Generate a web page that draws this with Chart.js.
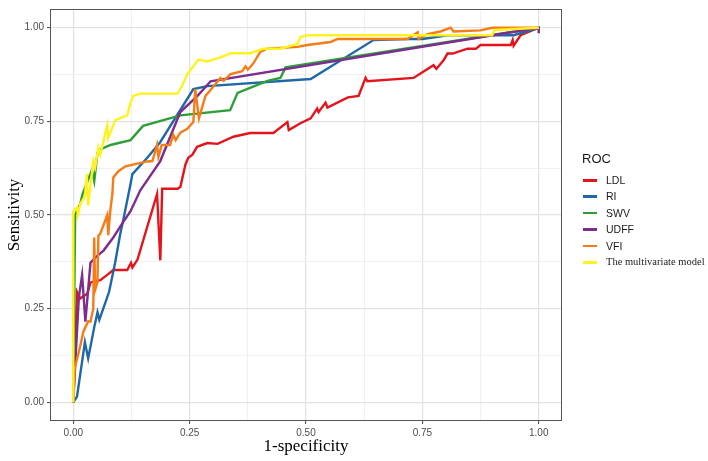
<!DOCTYPE html>
<html>
<head>
<meta charset="utf-8">
<script src="https://cdn.jsdelivr.net/npm/chart.js@4.4.1/dist/chart.umd.min.js"></script>
<style>
  html, body { margin: 0; padding: 0; background: #fff; }
  #wrap { position: relative; width: 708px; height: 461px; }
  #legend { position: absolute; left: 0; top: 0; font-family: 'Liberation Sans', Arial, sans-serif; color: #1a1a1a; }
  .leg-title { position: absolute; left: 582px; top: 151px; font-size: 13px; white-space: nowrap; }
  .leg-item { position: absolute; left: 583px; height: 14px; white-space: nowrap; }
  .leg-key { position: absolute; left: 0; top: 6px; width: 14px; height: 2.5px; }
  .leg-text { position: absolute; left: 23px; top: 0; font-size: 10.5px; line-height: 14px; }
  .serif { font-family: 'Liberation Serif', 'Times New Roman', serif; }
</style>
</head>
<body>
<div id="wrap">
  <canvas id="roc"></canvas>
  <div id="legend"></div>
</div>
<script>
// ROC points (1-specificity, sensitivity)
const ldlX = [0, 0.008, 0.015, 0.03, 0.037, 0.058, 0.073, 0.086, 0.116, 0.124, 0.127, 0.138, 0.18, 0.187, 0.191, 0.224, 0.23, 0.241, 0.247, 0.256, 0.266, 0.288, 0.31, 0.344, 0.38, 0.43, 0.46, 0.463, 0.488, 0.51, 0.524, 0.527, 0.542, 0.546, 0.59, 0.613, 0.628, 0.632, 0.731, 0.774, 0.78, 0.796, 0.804, 0.815, 0.847, 0.865, 0.875, 0.94, 0.944, 0.946, 0.961, 1];
const ldlY = [0, 0.295, 0.277, 0.29, 0.32, 0.326, 0.34, 0.353, 0.353, 0.372, 0.36, 0.381, 0.556, 0.379, 0.57, 0.57, 0.575, 0.635, 0.653, 0.661, 0.682, 0.692, 0.69, 0.709, 0.719, 0.719, 0.748, 0.727, 0.745, 0.758, 0.784, 0.775, 0.8, 0.787, 0.814, 0.818, 0.866, 0.857, 0.866, 0.9, 0.89, 0.914, 0.931, 0.931, 0.944, 0.944, 0.954, 0.954, 0.967, 0.952, 0.98, 1];

const riX = [0, 0.008, 0.025, 0.032, 0.045, 0.052, 0.056, 0.077, 0.09, 0.101, 0.108, 0.123, 0.127, 0.159, 0.187, 0.258, 0.288, 0.51, 0.645, 0.718, 0.75, 0.805, 0.946, 1];
const riY = [0, 0.015, 0.16, 0.117, 0.2, 0.24, 0.22, 0.295, 0.373, 0.45, 0.49, 0.583, 0.609, 0.653, 0.695, 0.836, 0.844, 0.863, 0.967, 0.97, 0.97, 0.98, 0.98, 1];

const swvX = [0, 0.004, 0.015, 0.02, 0.04, 0.045, 0.052, 0.058, 0.08, 0.123, 0.15, 0.23, 0.337, 0.353, 0.417, 0.445, 0.456, 1];
const swvY = [0, 0.5, 0.53, 0.556, 0.62, 0.59, 0.666, 0.675, 0.687, 0.7, 0.738, 0.766, 0.78, 0.826, 0.858, 0.866, 0.894, 1];

const udffX = [0, 0.008, 0.012, 0.019, 0.026, 0.037, 0.051, 0.065, 0.086, 0.105, 0.123, 0.144, 0.187, 0.23, 0.267, 0.295, 1, 1];
const udffY = [0, 0.19, 0.28, 0.34, 0.215, 0.373, 0.39, 0.405, 0.44, 0.477, 0.51, 0.566, 0.644, 0.775, 0.818, 0.857, 1, 0.985];

const vfiX = [0, 0.003, 0.015, 0.022, 0.032, 0.037, 0.043, 0.045, 0.047, 0.052, 0.054, 0.058, 0.073, 0.075, 0.08, 0.084, 0.086, 0.097, 0.112, 0.159, 0.17, 0.18, 0.183, 0.19, 0.208, 0.215, 0.22, 0.23, 0.245, 0.258, 0.262, 0.27, 0.284, 0.299, 0.316, 0.323, 0.338, 0.363, 0.37, 0.375, 0.387, 0.402, 0.417, 0.482, 0.503, 0.553, 0.568, 0.718, 0.74, 0.742, 0.761, 0.789, 0.811, 0.817, 0.875, 0.9, 1];
const vfiY = [0, 0.09, 0.15, 0.19, 0.216, 0.215, 0.25, 0.44, 0.3, 0.32, 0.445, 0.45, 0.5, 0.446, 0.517, 0.556, 0.6, 0.617, 0.63, 0.643, 0.644, 0.687, 0.655, 0.687, 0.687, 0.714, 0.7, 0.72, 0.73, 0.748, 0.836, 0.758, 0.818, 0.84, 0.866, 0.858, 0.876, 0.884, 0.897, 0.888, 0.905, 0.936, 0.944, 0.949, 0.954, 0.962, 0.97, 0.97, 0.988, 0.97, 0.983, 0.99, 1, 0.99, 0.993, 1, 1];

const multiX = [0, 0, 0.008, 0.01, 0.015, 0.025, 0.029, 0.032, 0.043, 0.047, 0.054, 0.058, 0.073, 0.075, 0.086, 0.09, 0.116, 0.123, 0.129, 0.144, 0.224, 0.234, 0.245, 0.258, 0.269, 0.288, 0.31, 0.323, 0.338, 0.38, 0.409, 0.445, 0.482, 0.488, 0.503, 0.9, 0.905, 1];
const multiY = [0, 0.51, 0.52, 0.5, 0.53, 0.55, 0.61, 0.525, 0.644, 0.627, 0.68, 0.661, 0.74, 0.705, 0.74, 0.753, 0.766, 0.8, 0.818, 0.824, 0.824, 0.845, 0.876, 0.897, 0.915, 0.91, 0.918, 0.924, 0.932, 0.932, 0.944, 0.944, 0.957, 0.975, 0.98, 0.98, 0.994, 1];

const seriesNames = ['LDL', 'RI', 'SWV', 'UDFF', 'VFI', 'The multivariate model'];
const seriesX = [ldlX, riX, swvX, udffX, vfiX, multiX];
const seriesY = [ldlY, riY, swvY, udffY, vfiY, multiY];
const seriesColors = ['#E3141C', '#1F68A8', '#2E9E38', '#7B2D90', '#F57C16', '#FFF21E'];
const axisTicks = [0, 0.25, 0.5, 0.75, 1];

const isMajor = v => axisTicks.some(t => Math.abs(t - v) < 1e-6);

const datasets = seriesNames.map((name, i) => ({
  label: name,
  data: seriesX[i].map((x, j) => ({ x: x, y: seriesY[i][j] })),
  borderColor: seriesColors[i],
  backgroundColor: seriesColors[i],
  borderWidth: 2.4,
  pointRadius: 0,
  tension: 0,
  fill: false,
  order: seriesNames.length - i   // later series drawn on top
}));

// panel border like ggplot theme
const panelBox = {
  id: 'panelBox',
  afterDatasetsDraw(chart) {
    const a = chart.chartArea;
    const ctx = chart.ctx;
    ctx.save();
    ctx.strokeStyle = '#555';
    ctx.lineWidth = 1;
    ctx.strokeRect(a.left + 0.5, a.top + 0.5, a.right - a.left - 1, a.bottom - a.top - 1);
    ctx.restore();
  }
};

function axisOpts(title, isX) {
  return {
    type: 'linear',
    min: -0.05,
    max: 1.05,
    afterFit: s => { if (isX) s.height = 40; else s.width = 50; },
    ticks: {
      stepSize: 0.125,
      includeBounds: false,
      autoSkip: false,
      maxRotation: 0,
      padding: 3,
      color: '#4d4d4d',
      font: { family: "'Liberation Sans', Arial, sans-serif", size: 10 },
      callback: v => isMajor(v) ? v.toFixed(2) : ''
    },
    grid: {
      color: c => (c.tick && isMajor(c.tick.value)) ? '#e2e2e2' : '#eeeeee',
      lineWidth: c => (c.tick && isMajor(c.tick.value)) ? 1.2 : 0.9,
      tickColor: c => (c.tick && isMajor(c.tick.value)) ? '#444' : 'rgba(0,0,0,0)',
      tickWidth: 1,
      tickLength: 3,
      drawTicks: true
    },
    border: { display: false },
    title: {
      display: true,
      text: title,
      color: '#000',
      font: { family: "'Liberation Serif', 'Times New Roman', serif", size: 17 },
      padding: isX ? { top: 0, bottom: 4 } : { top: 4, bottom: 0 }
    }
  };
}

new Chart(document.getElementById('roc'), {
  type: 'line',
  data: { datasets: datasets },
  options: {
    responsive: true,
    maintainAspectRatio: false,
    animation: false,
    layout: { padding: { left: 0, right: 146, top: 2, bottom: 0 } },
    scales: {
      x: axisOpts('1-specificity', true),
      y: axisOpts('Sensitivity', false)
    },
    plugins: {
      legend: { display: false },
      tooltip: { enabled: false }
    }
  },
  plugins: [panelBox]
});

// legend, drawn as html
const legend = document.getElementById('legend');
const t = document.createElement('div');
t.className = 'leg-title';
t.textContent = 'ROC';
legend.appendChild(t);
seriesNames.forEach((name, i) => {
  const row = document.createElement('div');
  row.className = 'leg-item';
  row.style.top = (173 + i * 16.4) + 'px';
  const key = document.createElement('div');
  key.className = 'leg-key';
  key.style.background = seriesColors[i];
  const txt = document.createElement('div');
  txt.className = 'leg-text' + (i === 5 ? ' serif' : '');
  txt.textContent = name;
  row.appendChild(key);
  row.appendChild(txt);
  legend.appendChild(row);
});
</script>
</body>
</html>
